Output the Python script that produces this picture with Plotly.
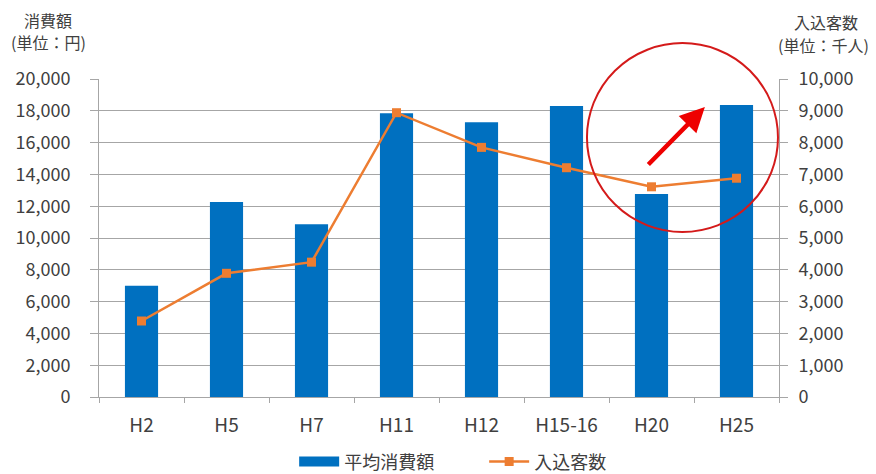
import plotly.graph_objects as go

categories = ["H2", "H5", "H7", "H11", "H12", "H15-16", "H20", "H25"]
spending = [7000, 12260, 10860, 17840, 17280, 18300, 12770, 18360]
visitors = [2390, 3890, 4240, 8940, 7850, 7210, 6610, 6880]
left_ticks = list(range(0, 20001, 2000))
right_ticks = list(range(0, 10001, 1000))

FONT = "Noto Sans CJK JP"
TXT = "#404040"
GRID = "#a6a6a6"
BLUE = "#0070C0"
ORANGE = "#ED7D31"

fig = go.Figure()
fig.add_trace(go.Bar(
    x=categories, y=spending, name="平均消費額",
    marker=dict(color=BLUE, line=dict(width=0)),
    yaxis="y", showlegend=False,
))
# legend-only swatch mimicking Excel's wide bar key
fig.add_trace(go.Scatter(
    x=[None], y=[None], name="平均消費額", mode="lines",
    line=dict(color=BLUE, width=10), yaxis="y",
))
fig.add_trace(go.Scatter(
    x=categories, y=visitors, name="入込客数", mode="lines+markers",
    line=dict(color=ORANGE, width=2.5),
    marker=dict(symbol="square", size=9, color=ORANGE),
    yaxis="y2",
))


def title(text, x, y):
    return dict(text=text, xref="paper", yref="paper", x=x, y=y,
                xanchor="center", yanchor="middle", showarrow=False,
                font=dict(size=16, color=TXT))


fig.update_layout(
    width=868, height=466,
    margin=dict(l=91, r=97, t=71, b=77, autoexpand=False),
    paper_bgcolor="white", plot_bgcolor="white",
    font=dict(family=FONT, color=TXT, size=18),
    bargap=0.61,
    showlegend=True,
    legend=dict(orientation="h", x=0.287, xanchor="left", y=-0.204, yanchor="middle",
                font=dict(size=18, color=TXT), traceorder="normal",
                itemwidth=40, tracegroupgap=0, entrywidth=135, entrywidthmode="pixels"),
    xaxis=dict(
        type="category", showline=True, linecolor=GRID, linewidth=1,
        ticks="outside", tickson="boundaries", ticklen=5, tickcolor=GRID,
        showgrid=False, tickfont=dict(size=19, color=TXT), automargin=False,
        ticklabelstandoff=11,
    ),
    yaxis=dict(
        range=[0, 20000], tickvals=left_ticks, tickformat=",",
        showgrid=True, gridcolor=GRID, gridwidth=1,
        showline=True, linecolor=GRID, ticks="outside", ticklen=8, tickcolor=GRID,
        tickfont=dict(size=18, color=TXT), zeroline=False, automargin=False,
        ticklabelstandoff=16,
    ),
    yaxis2=dict(
        range=[0, 10000], tickvals=right_ticks, tickformat=",",
        overlaying="y", side="right", showgrid=False,
        showline=True, linecolor=GRID, ticks="outside", ticklen=8, tickcolor=GRID,
        tickfont=dict(size=18, color=TXT), zeroline=False, automargin=False,
        ticklabelstandoff=7,
    ),
    annotations=[
        title("消費額", -0.075, 1.1855),
        title("(単位：円)", -0.074, 1.116),
        title("入込客数", 1.069, 1.179),
        title("(単位：千人)", 1.065, 1.107),
        dict(text="", xref="paper", yref="paper", x=0.891, y=0.912,
             ax=-58, ay=59, showarrow=True, arrowhead=2, arrowsize=1.1,
             arrowwidth=4.5, arrowcolor="#ee0000"),
    ],
    shapes=[
        dict(type="circle", xref="paper", yref="paper",
             x0=0.7176, x1=0.9985, y0=0.519, y1=1.113,
             line=dict(color="#d41a1a", width=2)),
    ],
)

fig.write_html("out.html")
